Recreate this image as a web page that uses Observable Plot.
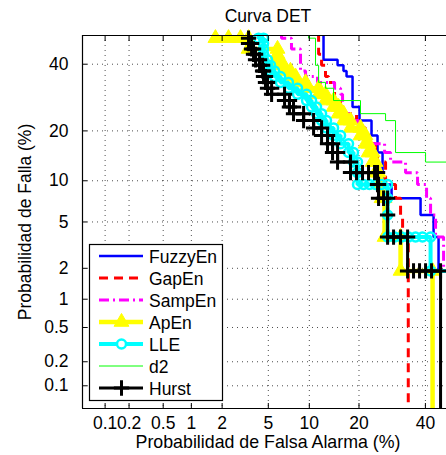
<!DOCTYPE html>
<html>
<head>
<meta charset="utf-8">
<script src="https://cdn.jsdelivr.net/npm/d3@7"></script>
<script src="https://cdn.jsdelivr.net/npm/@observablehq/plot@0.6"></script>
<style>
  html, body { margin: 0; padding: 0; background: #fff; }
</style>
</head>
<body>
<div id="chart"></div>
<script>
// Axis ticks and limits, in percent
const xTicks = [0.1, 0.2, 0.5, 1, 2, 5, 10, 20, 40];
const yTicks = [0.1, 0.2, 0.5, 1, 2, 5, 10, 20, 40];
const xLimits = [0.05, 47.35];
const yLimits = [0.05, 50];

const seriesNames = ["FuzzyEn", "GapEn", "SampEn", "ApEn", "LLE", "d2", "Hurst"];

// DET points per detector: [false alarm %, miss %]
const fuzzyEn = [[12.39,50.94],[12.39,41.51],[15.12,41.51],[15.12,39.62],[16.38,39.62],[16.38,37.74],[17.06,37.74],[17.06,35.85],[18.44,35.85],[18.44,26.42],[20.13,26.42],[20.13,22.64],[23.25,22.64],[23.25,18.87],[24.91,18.87],[24.91,15.09],[26.34,15.09],[26.34,9.43],[29.01,9.43],[29.01,7.55],[38.35,7.55],[38.35,5.66],[42.82,5.66],[42.82,3.77],[44.56,3.77],[44.56,1.89],[50,1.89]];

const gapEn = [[11.52,50.94],[11.52,43.40],[12.04,43.40],[12.04,39.62],[12.75,39.62],[12.75,35.85],[13.32,35.85],[13.32,33.96],[14.50,33.96],[14.50,28.30],[15.75,28.30],[15.75,24.53],[19.40,24.53],[19.40,22.64],[20.89,22.64],[20.89,20.75],[21.66,20.75],[21.66,18.87],[22.71,18.87],[22.71,16.98],[24.35,16.98],[24.35,15.09],[24.91,15.09],[24.91,13.21],[27.22,13.21],[27.22,9.43],[30.23,9.43],[30.23,7.55],[31.80,7.55],[31.80,5.66],[32.44,5.66],[32.44,3.77],[34.27,3.77],[34.27,0]];

const sampEn = [[6.33,50.94],[6.33,49.06],[7.50,49.06],[7.50,45.28],[8.70,45.28],[8.70,37.74],[9.43,37.74],[9.43,35.85],[11.34,35.85],[11.34,33.96],[14.50,33.96],[14.50,32.08],[15.75,32.08],[15.75,30.19],[16.18,30.19],[16.18,24.53],[17.97,24.53],[17.97,22.64],[19.89,22.64],[19.89,18.87],[22.98,18.87],[22.98,16.98],[26.93,16.98],[26.93,15.09],[28.71,15.09],[28.71,13.21],[33.39,13.21],[33.39,11.32],[37.34,11.32],[37.34,9.43],[40.40,9.43],[40.40,7.55],[41.78,7.55],[41.78,5.66],[43.51,5.66],[43.51,3.77],[46.32,3.77],[46.32,1.89],[50,1.89]];

const apEn = [[1.73,50.94],[1.73,49.06],[2.29,49.06],[2.93,49.06],[3.44,49.06],[3.44,45.28],[5.90,45.28],[5.90,43.40],[5.90,41.51],[5.90,39.62],[6.56,39.62],[6.56,37.74],[7.37,37.74],[7.37,35.85],[8.02,35.85],[8.02,33.96],[9.43,33.96],[9.43,32.08],[11.52,32.08],[11.52,30.19],[12.75,30.19],[12.75,28.30],[14.30,28.30],[14.30,26.42],[15.33,26.42],[15.33,24.53],[16.40,24.53],[16.40,22.64],[17.97,22.64],[17.97,20.75],[20.38,20.75],[20.38,18.87],[21.66,18.87],[21.66,16.98],[22.45,16.98],[22.45,15.09],[23.53,15.09],[23.53,13.21],[24.35,13.21],[24.35,11.32],[25.20,11.32],[25.20,9.43],[26.05,9.43],[26.05,7.55],[26.93,7.55],[26.93,3.77],[31.80,3.77],[31.80,1.89],[42.47,1.89],[42.47,0]];

const lle = [[4.17,50.94],[4.17,49.06],[4.58,49.06],[4.58,47.17],[4.58,45.28],[4.58,43.40],[4.58,41.51],[4.93,41.51],[4.93,39.62],[5.21,39.62],[5.21,37.74],[5.59,37.74],[5.59,35.85],[6.22,35.85],[6.22,33.96],[7.13,33.96],[7.13,32.08],[8.29,32.08],[8.29,30.19],[9.58,30.19],[9.58,28.30],[10.35,28.30],[10.35,26.42],[11.17,26.42],[11.17,24.53],[12.04,24.53],[12.04,22.64],[12.94,22.64],[12.94,20.75],[14.30,20.75],[14.30,18.87],[15.75,18.87],[15.75,16.98],[17.51,16.98],[17.51,15.09],[18.67,15.09],[18.67,13.21],[19.64,13.21],[19.64,11.32],[19.64,9.43],[21.15,9.43],[22.71,9.43],[24.35,9.43],[26.05,9.43],[27.82,9.43],[27.82,7.55],[27.82,5.66],[27.82,3.77],[29.93,3.77],[32.12,3.77],[34.37,3.77],[36.67,3.77],[39.00,3.77],[41.78,3.77],[41.78,1.89],[50,1.89]];

const d2 = [[9.89,50.94],[9.89,49.06],[11.00,49.06],[11.00,39.62],[11.52,39.62],[11.52,33.96],[12.75,33.96],[12.75,32.08],[14.30,32.08],[14.30,28.30],[20.38,28.30],[20.38,24.53],[27.22,24.53],[27.22,22.64],[30.23,22.64],[30.23,15.09],[40.06,15.09],[40.06,13.21],[50,13.21]];

const hurst = [[3.44,50.94],[3.44,49.06],[3.44,47.17],[3.65,47.17],[3.65,45.28],[3.79,45.28],[3.79,43.40],[3.94,43.40],[3.94,41.51],[4.25,41.51],[4.25,39.62],[4.50,39.62],[4.50,37.74],[4.58,37.74],[4.58,35.85],[4.75,35.85],[4.75,33.96],[4.93,33.96],[4.93,32.08],[5.31,32.08],[5.31,30.19],[6.67,30.19],[6.67,28.30],[7.25,28.30],[7.25,26.42],[7.76,26.42],[7.76,24.53],[9.14,24.53],[9.14,22.64],[10.68,22.64],[10.68,20.75],[12.04,20.75],[12.04,18.87],[13.13,18.87],[13.13,16.98],[14.10,16.98],[14.10,15.09],[15.12,15.09],[15.12,13.21],[17.97,13.21],[17.97,11.32],[19.40,11.32],[20.89,11.32],[22.45,11.32],[24.08,11.32],[24.91,11.32],[24.91,9.43],[25.20,9.43],[25.20,7.55],[26.63,7.55],[27.82,7.55],[27.82,5.66],[27.82,3.77],[29.62,3.77],[31.80,3.77],[34.05,3.77],[34.05,1.89],[36.00,1.89],[38.01,1.89],[40.06,1.89],[42.12,1.89],[45.26,1.89],[45.26,0]];

const seriesData = [fuzzyEn, gapEn, sampEn, apEn, lle, d2, hurst];

// Line and marker styles, in legend order
const seriesStyles = [
  {stroke: "#0000ff", width: 2.5},
  {stroke: "#ff0000", width: 3, dash: "9,6"},
  {stroke: "#ff00ff", width: 3, dash: "10,4,2,4"},
  {stroke: "#ffff00", width: 4.5, symbol: "triangle", r: 5.5, fill: "#ffff00", sw: 1},
  {stroke: "#00ffff", width: 4, symbol: "circle", r: 4.5, fill: "none", sw: 2.5},
  {stroke: "#00ff00", width: 1},
  {stroke: "#000000", width: 3, symbol: "plus", r: 5, fill: "none", sw: 3}
];

// Inverse of the standard normal CDF (Acklam's rational approximation)
function probit(p) {
  const a = [-3.969683028665376e+01, 2.209460984245205e+02, -2.759285104469687e+02, 1.383577518672690e+02, -3.066479806614716e+01, 2.506628277459239e+00];
  const b = [-5.447609879822406e+01, 1.615858368580409e+02, -1.556989798598866e+02, 6.680131188771972e+01, -1.328068155288572e+01];
  const c = [-7.784894002430293e-03, -3.223964580411365e-01, -2.400758277161838e+00, -2.549732539343734e+00, 4.374664141464968e+00, 2.938163982698783e+00];
  const d = [7.784695709041462e-03, 3.224671290700398e-01, 2.445134137142996e+00, 3.754408661907416e+00];
  const pl = 0.02425, ph = 1 - pl;
  let q, r;
  if (p < pl) {
    q = Math.sqrt(-2 * Math.log(p));
    return (((((c[0]*q+c[1])*q+c[2])*q+c[3])*q+c[4])*q+c[5]) / ((((d[0]*q+d[1])*q+d[2])*q+d[3])*q+1);
  }
  if (p > ph) {
    q = Math.sqrt(-2 * Math.log(1 - p));
    return -(((((c[0]*q+c[1])*q+c[2])*q+c[3])*q+c[4])*q+c[5]) / ((((d[0]*q+d[1])*q+d[2])*q+d[3])*q+1);
  }
  q = p - 0.5; r = q * q;
  return (((((a[0]*r+a[1])*r+a[2])*r+a[3])*r+a[4])*r+a[5])*q / (((((b[0]*r+b[1])*r+b[2])*r+b[3])*r+b[4])*r+1);
}
// percent -> normal deviate (DET axis warping)
const P = v => probit(Math.min(Math.max(v / 100, 1e-9), 1 - 1e-9));

const inView = d => d[1] > 0 && d[1] <= yLimits[1] && d[0] <= xLimits[1];

const gridStyle = {stroke: "#000", strokeOpacity: 0.7, strokeDasharray: "1,4"};

const marks = [
  Plot.gridX(xTicks, {x: P, ...gridStyle}),
  Plot.gridY(yTicks, {y: P, ...gridStyle})
];

seriesData.forEach((data, i) => {
  const s = seriesStyles[i];
  marks.push(Plot.line(data, {
    x: d => P(d[0]), y: d => P(d[1]),
    stroke: s.stroke, strokeWidth: s.width, strokeDasharray: s.dash,
    strokeLinejoin: "miter", strokeLinecap: "butt", clip: true
  }));
  if (s.symbol) {
    marks.push(Plot.dot(data.filter(inView), {
      x: d => P(d[0]), y: d => P(d[1]),
      symbol: s.symbol, r: s.r, stroke: s.stroke, fill: s.fill, strokeWidth: s.sw
    }));
  }
});

marks.push(
  // axes box (left, bottom, top)
  Plot.ruleX([xLimits[0]], {x: P, stroke: "#000", strokeWidth: 1.2}),
  Plot.ruleY(yLimits, {y: P, stroke: "#000", strokeWidth: 1.2}),
  // inward ticks
  Plot.axisX(xTicks, {x: P, anchor: "bottom", tickSize: -5, fill: "none", label: null}),
  Plot.axisX(xTicks, {x: P, anchor: "top", tickSize: -5, fill: "none", label: null}),
  Plot.axisY(yTicks, {y: P, anchor: "left", tickSize: -5, fill: "none", label: null}),
  // tick labels
  Plot.axisX(xTicks, {x: P, anchor: "bottom", tickSize: 0, tickPadding: 8, tickFormat: d => String(d), label: null, fill: "#000"}),
  Plot.axisY(yTicks, {y: P, anchor: "left", tickSize: 0, tickPadding: 14, tickFormat: d => String(d), label: null, fill: "#000"}),
  // title and axis titles
  Plot.text(["Curva DET"], {frameAnchor: "top", text: d => d, lineAnchor: "bottom", dy: -13.5, dx: 3.5, fill: "#000"}),
  Plot.text(["Probabilidad de Falsa Alarma (%)"], {frameAnchor: "bottom", text: d => d, lineAnchor: "bottom", dy: 39, dx: 3.5, fontSize: 17.8, fill: "#000"}),
  Plot.text(["Probabilidad de Falla (%)"], {frameAnchor: "left", text: d => d, rotate: -90, textAnchor: "middle", lineAnchor: "middle", dx: -57.5, fill: "#000"})
);

const chart = Plot.plot({
  width: 446,
  height: 455,
  marginLeft: 82,
  marginRight: 0,
  marginTop: 35,
  marginBottom: 47,
  style: {fontFamily: "'Liberation Sans', Arial, sans-serif", fontSize: "17.5px", background: "#fff", color: "#000"},
  x: {type: "linear", domain: [P(xLimits[0]), P(xLimits[1])]},
  y: {type: "linear", domain: [P(yLimits[0]), P(yLimits[1])]},
  marks
});

// Boxed legend in the lower-left corner of the axes
const svg = d3.select(chart);
const legend = svg.append("g")
  .attr("font-family", "'Liberation Sans', Arial, sans-serif")
  .attr("font-size", "17.5px")
  .attr("text-anchor", "start");
legend.append("rect")
  .attr("x", 89.5).attr("y", 244.5).attr("width", 133).attr("height", 156)
  .attr("fill", "#fff").attr("stroke", "#000").attr("stroke-width", 1.2);
const symbolTypes = {triangle: d3.symbolTriangle, circle: d3.symbolCircle, plus: d3.symbolPlus};
seriesNames.forEach((name, i) => {
  const s = seriesStyles[i];
  const y = 256 + i * 22;
  legend.append("line")
    .attr("x1", 99).attr("x2", 143).attr("y1", y).attr("y2", y)
    .attr("stroke", s.stroke).attr("stroke-width", s.width)
    .attr("stroke-dasharray", s.dash || null);
  if (s.symbol) {
    legend.append("path")
      .attr("transform", `translate(121.5,${y})`)
      .attr("d", d3.symbol(symbolTypes[s.symbol], Math.PI * s.r * s.r)())
      .attr("fill", s.symbol === "circle" ? "#fff" : s.fill)
      .attr("stroke", s.stroke).attr("stroke-width", s.sw);
  }
  legend.append("text")
    .attr("x", 149).attr("y", y + 6.5)
    .attr("text-anchor", "start")
    .attr("fill", "#000")
    .text(name);
});

document.getElementById("chart").appendChild(chart);
</script>
</body>
</html>
